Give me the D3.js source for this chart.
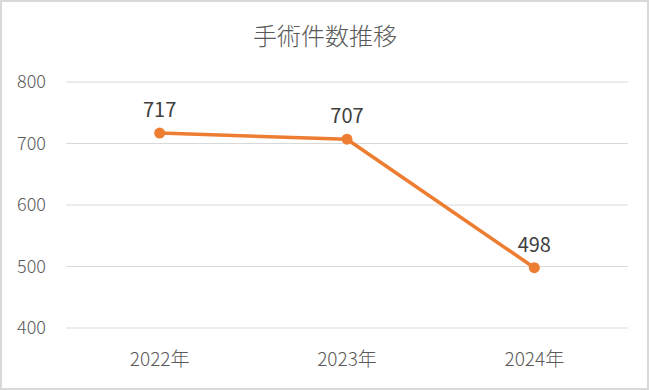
<!DOCTYPE html>
<html>
<head>
<meta charset="utf-8">
<script src="https://cdn.jsdelivr.net/npm/d3@7"></script>
<style>
  body { margin: 0; background: #fff; }
  text { font-family: "Noto Sans CJK JP", "Noto Sans", sans-serif; }
</style>
</head>
<body>
<svg width="649" height="390"></svg>
<script>
const years = ['2022年', '2023年', '2024年'];
const counts = [717, 707, 498];
const yTicks = [400, 500, 600, 700, 800];
const title = '手術件数推移';

const svg = d3.select('svg');

// outer chart border
svg.append('rect')
  .attr('x', 1).attr('y', 1)
  .attr('width', 647).attr('height', 388)
  .attr('fill', '#fff')
  .attr('stroke', '#d9d9d9')
  .attr('stroke-width', 2);

const plotL = 66, plotR = 628, plotT = 82, plotB = 328;

const x = d3.scaleBand().domain(years).range([plotL, plotR]);
const y = d3.scaleLinear().domain([400, 800]).range([plotB, plotT]);

svg.append('text')
  .attr('x', 325).attr('y', 45)
  .attr('text-anchor', 'middle')
  .attr('font-size', 24)
  .attr('font-weight', 300)
  .attr('fill', '#595959')
  .text(title);

// gridlines
svg.append('g').selectAll('line')
  .data(yTicks)
  .enter().append('line')
  .attr('x1', plotL).attr('x2', plotR)
  .attr('y1', d => y(d)).attr('y2', d => y(d))
  .attr('stroke', '#d9d9d9')
  .attr('stroke-width', 1);

// y labels
svg.append('g').selectAll('text')
  .data(yTicks)
  .enter().append('text')
  .attr('x', 46).attr('y', d => y(d))
  .attr('dy', '0.35em')
  .attr('text-anchor', 'end')
  .attr('font-size', 18)
  .attr('font-weight', 300)
  .attr('fill', '#595959')
  .text(d => d);

// x labels
svg.append('g').selectAll('text')
  .data(years)
  .enter().append('text')
  .attr('x', d => x(d) + x.bandwidth() / 2)
  .attr('y', 366)
  .attr('text-anchor', 'middle')
  .attr('font-size', 19)
  .attr('font-weight', 300)
  .attr('fill', '#595959')
  .text(d => d);

const pts = years.map((d, i) => [x(d) + x.bandwidth() / 2, y(counts[i])]);

svg.append('path')
  .attr('d', d3.line()(pts))
  .attr('fill', 'none')
  .attr('stroke', '#ed7d31')
  .attr('stroke-width', 3.5)
  .attr('stroke-linejoin', 'round')
  .attr('stroke-linecap', 'round');

svg.append('g').selectAll('circle')
  .data(pts)
  .enter().append('circle')
  .attr('cx', d => d[0]).attr('cy', d => d[1])
  .attr('r', 5.5)
  .attr('fill', '#ed7d31');

svg.append('g').selectAll('text')
  .data(pts)
  .enter().append('text')
  .attr('x', d => d[0]).attr('y', d => d[1] - 16)
  .attr('text-anchor', 'middle')
  .attr('font-size', 20)
  .attr('fill', '#404040')
  .text((d, i) => counts[i]);
</script>
</body>
</html>
